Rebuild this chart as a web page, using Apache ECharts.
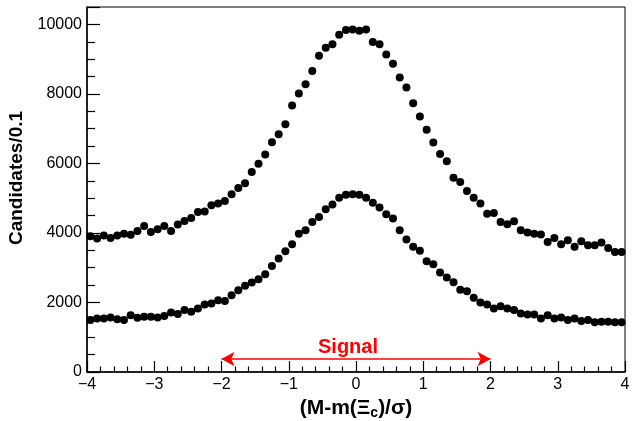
<!DOCTYPE html>
<html>
<head>
<meta charset="utf-8">
<script src="https://cdn.jsdelivr.net/npm/echarts@6/dist/echarts.min.js"></script>
<style>
html,body{margin:0;padding:0;background:#fff;}
#chart{width:644px;height:421px;}
</style>
</head>
<body>
<div id="chart"></div>
<script>
// Bin centres: -3.95 ... 3.95 step 0.1
var binCenters = [-3.95,-3.85,-3.75,-3.65,-3.55,-3.45,-3.35,-3.25,-3.15,-3.05,
  -2.95,-2.85,-2.75,-2.65,-2.55,-2.45,-2.35,-2.25,-2.15,-2.05,
  -1.95,-1.85,-1.75,-1.65,-1.55,-1.45,-1.35,-1.25,-1.15,-1.05,
  -0.95,-0.85,-0.75,-0.65,-0.55,-0.45,-0.35,-0.25,-0.15,-0.05,
  0.05,0.15,0.25,0.35,0.45,0.55,0.65,0.75,0.85,0.95,
  1.05,1.15,1.25,1.35,1.45,1.55,1.65,1.75,1.85,1.95,
  2.05,2.15,2.25,2.35,2.45,2.55,2.65,2.75,2.85,2.95,
  3.05,3.15,3.25,3.35,3.45,3.55,3.65,3.75,3.85,3.95];

var upperCounts = [3905,3840,3930,3855,3930,3980,3950,4055,4200,4030,
  4105,4200,4055,4240,4345,4430,4600,4620,4795,4845,
  4920,5110,5290,5430,5750,5990,6260,6610,6840,7130,
  7665,8010,8275,8660,9095,9330,9425,9705,9840,9850,
  9820,9850,9495,9425,9130,8865,8470,8185,7730,7350,
  6970,6605,6270,6060,5590,5465,5205,5015,4845,4555,
  4575,4315,4250,4335,4075,4010,3980,3955,3740,3855,
  3675,3790,3600,3760,3645,3645,3725,3570,3455,3455];

var lowerCounts = [1495,1540,1540,1570,1515,1495,1635,1560,1590,1590,
  1570,1610,1715,1665,1780,1730,1830,1945,1970,2065,
  2045,2210,2355,2480,2575,2670,2815,3050,3265,3475,
  3675,3980,4075,4315,4460,4680,4815,5015,5100,5110,
  5100,5015,4870,4730,4535,4415,4075,3810,3600,3485,
  3185,3100,2860,2720,2585,2365,2325,2135,2000,1945,
  1830,1895,1830,1780,1685,1655,1655,1540,1635,1540,
  1570,1495,1540,1465,1495,1430,1445,1445,1430,1430];

var xTicks = [-4,-3,-2,-1,0,1,2,3,4];
var yTicks = [0,2000,4000,6000,8000,10000];
var signalRange = [-2, 2];
var signalArrowY = 375;
var signalText = 'Signal';

function pairs(xs, ys){ return xs.map(function(x,i){ return [x, ys[i]]; }); }

var chart = echarts.init(document.getElementById('chart'), null, {renderer:'canvas'});
var FONT = 'Liberation Sans, Arial, Helvetica, sans-serif';
chart.setOption({
  animation: false,
  backgroundColor: '#fff',
  grid: {left: 87, right: 19, top: 7, bottom: 49, containLabel: false, outerBoundsMode: 'none',
    show: true, borderColor: '#000', borderWidth: 1, backgroundColor: 'transparent'},
  xAxis: {
    type: 'value', min: xTicks[0], max: xTicks[xTicks.length-1], interval: 1,
    axisLine: {show: true, onZero: false, lineStyle: {color: '#000', width: 1.5}},
    axisTick: {show: true, inside: true, length: 11, lineStyle: {color: '#000', width: 1.2}},
    minorTick: {show: true, splitNumber: 5, length: 5.5, lineStyle: {color: '#000', width: 1.2}},
    splitLine: {show: false},
    axisLabel: {color: '#000', fontSize: 16, fontFamily: FONT, margin: 5,
      formatter: function(v){ return String(v).replace('-', '\u2212'); }},
    name: '{a|(M-m(\u039E}{s|c}{a|)/\u03C3)}',
    nameLocation: 'middle', nameGap: 24,
    nameTextStyle: {
      rich: {
        a: {fontSize: 21, fontWeight: 'bold', fontFamily: FONT, color: '#000'},
        s: {fontSize: 14, fontWeight: 'bold', fontFamily: FONT, color: '#000', padding: [10,0,0,0]}
      }
    }
  },
  yAxis: {
    type: 'value', min: 0, max: 10500, interval: 2000,
    axisLine: {show: true, onZero: false, lineStyle: {color: '#000', width: 1.5}},
    axisTick: {show: true, inside: true, length: 13, lineStyle: {color: '#000', width: 1.2}},
    minorTick: {show: true, splitNumber: 4, length: 8, lineStyle: {color: '#000', width: 1.2}},
    splitLine: {show: false},
    axisLabel: {color: '#000', fontSize: 16, fontFamily: FONT, margin: 5, showMaxLabel: false,
      formatter: function(v){ return yTicks.indexOf(v) >= 0 ? String(v) : ''; }},
    name: 'Candidates/0.1',
    nameLocation: 'middle', nameGap: 52,
    nameTextStyle: {fontSize: 19, fontWeight: 'bold', fontFamily: FONT, color: '#000', padding: [0,0,0,23]}
  },
  series: [
    {
      type: 'scatter', data: pairs(binCenters, upperCounts),
      symbol: 'circle', symbolSize: 8, itemStyle: {color: '#000', opacity: 1}, silent: true
    },
    {
      type: 'scatter', data: pairs(binCenters, lowerCounts),
      symbol: 'circle', symbolSize: 8, itemStyle: {color: '#000', opacity: 1}, silent: true,
      markLine: {
        silent: true,
        symbol: ['arrow', 'arrow'], symbolSize: [11, 13],
        lineStyle: {color: '#ff0000', width: 1.5, type: 'solid'},
        label: {show: true, position: 'middle', formatter: signalText, color: '#ff0000',
          fontSize: 20, fontWeight: 'bold', fontFamily: FONT, distance: 1, padding: [0,16,0,0]},
        data: [[{coord: [signalRange[0], signalArrowY]}, {coord: [signalRange[1], signalArrowY]}]]
      }
    }
  ]
});
</script>
</body>
</html>
